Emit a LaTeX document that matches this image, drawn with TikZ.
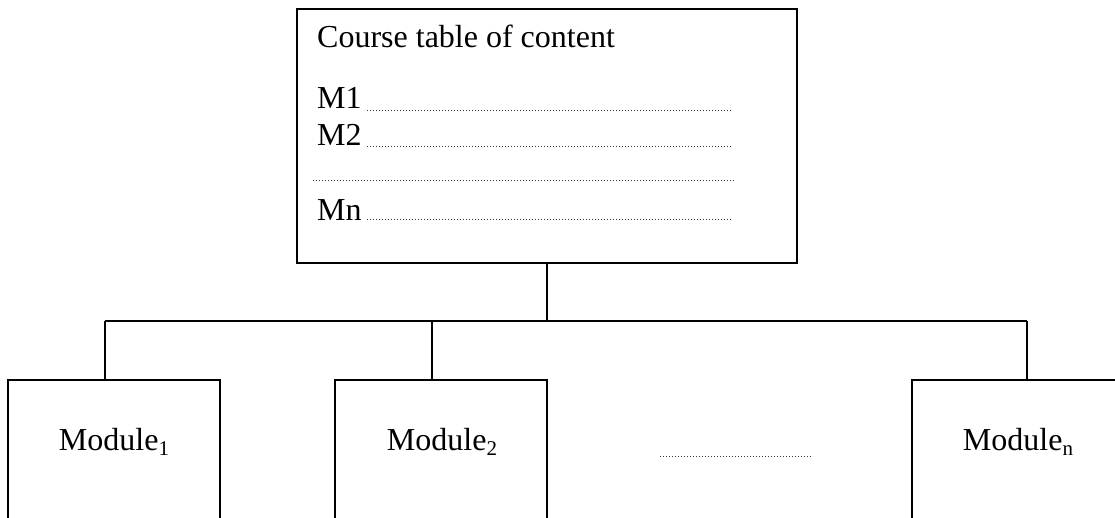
\documentclass[tikz,border=0pt]{standalone}
\usepackage{fontspec}
\setmainfont{Liberation Serif}
\newcommand{\mysub}[1]{\raisebox{-0.17em}{\fontsize{21}{21}\selectfont #1}}
\begin{document}
\begin{tikzpicture}[x=1pt,y=-1pt,
  frame/.style={draw=black,line width=1.6pt},
  link/.style={draw=black,line width=1.6pt},
  dots/.style={draw=black!80,line width=1pt,dash pattern=on 1pt off 2pt},
  txt/.style={inner sep=0pt,font=\fontsize{32}{38}\selectfont},
  modbox/.style={frame,minimum width=212pt,minimum height=200pt,anchor=north,inner sep=0pt}]
\useasboundingbox (0,0) rectangle (1115,517);
\clip (0,0) rectangle (1115,517);
% top box
\node[frame,minimum width=500pt,minimum height=254pt,inner sep=0pt] (top) at (547,136) {};
\node[txt,anchor=base west] (title) at (317,47) {Course table of content};
\node[txt,anchor=base west] (l1) at (317,108) {M1};
\node[txt,anchor=base west] (l2) at (317,145) {M2};
\node[txt,anchor=base west] (ln) at (317,220) {Mn};
\coordinate (d1a) at (367,110); \coordinate (d1b) at (732,110);
\coordinate (d2a) at (367,146); \coordinate (d2b) at (732,146);
\coordinate (d3a) at (313,180); \coordinate (d3b) at (735,180);
\coordinate (dna) at (367,219); \coordinate (dnb) at (732,219);
\draw[dots] (d1a) -- (d1b);
\draw[dots] (d2a) -- (d2b);
\draw[dots] (d3a) -- (d3b);
\draw[dots] (dna) -- (dnb);
% module boxes
\node[modbox] (m1) at (114,379) {};
\node[modbox] (m2) at (441,379) {};
\node[modbox] (mn) at (1018,379) {};
\node[txt,anchor=base] (t1) at (114,450) {Module\mysub{1}};
\node[txt,anchor=base] (t2) at (442,450) {Module\mysub{2}};
\node[txt,anchor=base] (tn) at (1018,450) {Module\mysub{n}};
\coordinate (mda) at (660,456); \coordinate (mdb) at (813,456);
\draw[dots] (mda) -- (mdb);
% connectors
\coordinate (bar) at (547,321);
\coordinate (b1) at (105,321);
\coordinate (b2) at (432,321);
\coordinate (bn) at (1027,321);
\draw[link] (top.south) -- (bar);
\draw[link] (b1) -- (bn);
\draw[link] (b1) -- (b1 |- m1.north);
\draw[link] (b2) -- (b2 |- m2.north);
\draw[link] (bn) -- (bn |- mn.north);
\end{tikzpicture}
\end{document}
